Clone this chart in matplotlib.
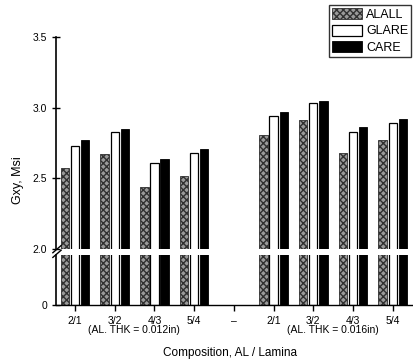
import numpy as np
import matplotlib.pyplot as plt

plt.rcParams['font.family'] = ['Liberation Sans', 'DejaVu Sans']

categories = ['2/1', '3/2', '4/3', '5/4', '\u2013', '2/1', '3/2', '4/3', '5/4']
series = ['ALALL', 'GLARE', 'CARE']
alall = [2.57, 2.67, 2.44, 2.52, np.nan, 2.81, 2.91, 2.68, 2.77]
glare = [2.73, 2.83, 2.61, 2.68, np.nan, 2.94, 3.03, 2.83, 2.89]
care = [2.77, 2.85, 2.64, 2.71, np.nan, 2.97, 3.05, 2.86, 2.92]
thk_labels = ['(AL. THK = 0.012in)', '(AL. THK = 0.016in)']

ind = np.arange(len(categories))
width = 0.21
off = 0.255

fig = plt.figure(figsize=(4.13, 3.6), dpi=100)
ax = fig.add_axes([0.1356, 0.3083, 0.8644, 0.5889])
axb = fig.add_axes([0.1356, 0.1528, 0.8644, 0.1389])

styles = [dict(facecolor='#9a9a9a', edgecolor='#303030', hatch='xxxxx', lw=0.6),
          dict(facecolor='white', edgecolor='black', lw=0.9),
          dict(facecolor='black', edgecolor='black', lw=0.6)]

for a in (ax, axb):
    for k, vals in enumerate([alall, glare, care]):
        a.bar(ind + (k - 1) * off, vals, width, label=series[k], **styles[k])
    a.set_xlim(-0.48, 8.51)
    a.spines['top'].set_visible(False)
    a.spines['right'].set_visible(False)
    a.spines['left'].set_linewidth(1.2)
    a.tick_params(axis='y', direction='inout', length=6, width=1.0, labelsize=7.5)

ax.set_ylim(2.0, 3.5)
ax.set_yticks([2.0, 2.5, 3.0, 3.5])
ax.set_yticklabels(['2.0', '2.5', '3.0', '3.5'])
ax.spines['bottom'].set_visible(False)
ax.set_xticks([])

axb.set_ylim(0, 2.0)
axb.set_yticks([0])
axb.spines['bottom'].set_linewidth(1.0)
axb.set_xticks(ind)
axb.set_xticklabels(categories, fontsize=7.5)
axb.tick_params(axis='x', direction='out', length=4, width=1.0, pad=4)

# break marks on the y axis
for dy in (0.0, 0.013):
    fig.add_artist(plt.Line2D([0.128, 0.148], [0.298 - dy, 0.318 - dy],
                              color='black', lw=1.0))

fig.text(0.325, 0.075, thk_labels[0], ha='center', fontsize=7.5)
fig.text(0.806, 0.075, thk_labels[1], ha='center', fontsize=7.5)
fig.text(0.557, 0.012, 'Composition, AL / Lamina', ha='center', fontsize=8.5)
fig.text(0.044, 0.5, 'Gxy, Msi', rotation=90, va='center', ha='center', fontsize=9)

leg = fig.legend(*ax.get_legend_handles_labels(), loc='upper right',
                 bbox_to_anchor=(0.999, 0.99), fontsize=9, frameon=True,
                 fancybox=False, edgecolor='black', handlelength=2.4,
                 handleheight=1.0, handletextpad=0.3, borderpad=0.25,
                 labelspacing=0.3, borderaxespad=0.1)
leg.get_frame().set_linewidth(1.0)

fig.savefig('out.png', dpi=100)
